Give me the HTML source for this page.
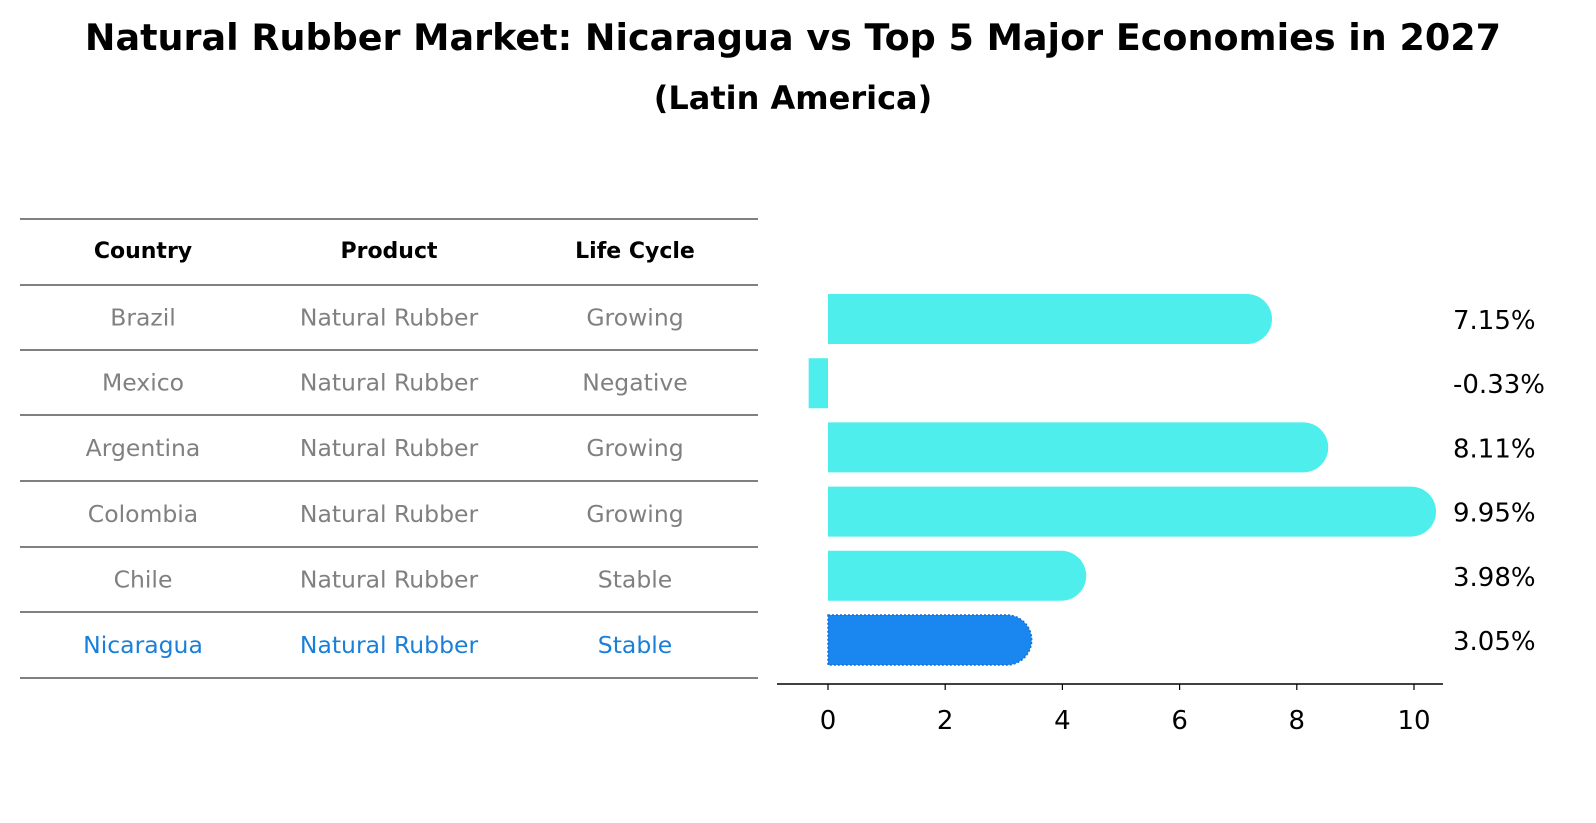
<!DOCTYPE html>
<html><head><meta charset="utf-8"><style>
html,body{margin:0;padding:0;overflow:hidden;background:#fff;font-family:"Liberation Sans","DejaVu Sans",sans-serif;}
svg{display:block;}
</style></head><body>
<svg width="1596" height="823" viewBox="0 0 1596 823" xmlns="http://www.w3.org/2000/svg" font-family="DejaVu Sans, Liberation Sans, sans-serif">
<text x="793" y="50" text-anchor="middle" font-size="36.5" font-weight="bold">Natural Rubber Market: Nicaragua vs Top 5 Major Economies in 2027</text>
<text x="793" y="109" text-anchor="middle" font-size="32" font-weight="bold">(Latin America)</text>
<g id="table"></g>
<g id="bars"></g>
</svg>
<script>
const countries=["Brazil","Mexico","Argentina","Colombia","Chile","Nicaragua"];
const products=["Natural Rubber","Natural Rubber","Natural Rubber","Natural Rubber","Natural Rubber","Natural Rubber"];
const lifeCycles=["Growing","Negative","Growing","Growing","Stable","Stable"];
const growth=[7.15,-0.33,8.11,9.95,3.98,3.05];
const ticks=[0,2,4,6,8,10];
const NS="http://www.w3.org/2000/svg";
function mk(t,a,p){const e=document.createElementNS(NS,t);for(const k in a)e.setAttribute(k,a[k]);p.appendChild(e);return e;}
const tbl=document.getElementById('table');
const lineYs=[219,285,350,415,481,547,612,678];
lineYs.forEach((y,i)=>{const l=mk('line',{x1:20,x2:758,y1:y,y2:y,stroke:'#000','stroke-width':1},tbl);

});
const colX=[143,389,635];
["Country","Product","Life Cycle"].forEach((h,i)=>{const t=mk('text',{x:colX[i],y:258,'text-anchor':'middle','font-size':22,'font-weight':'bold'},tbl);t.textContent=h;

});
countries.forEach((c,r)=>{const y=(lineYs[r+1]+lineYs[r+2])/2+8;const col=r===countries.length-1?'#1a7fd8':'#808080';
[c,products[r],lifeCycles[r]].forEach((v,i)=>{const t=mk('text',{x:colX[i],y:y,'text-anchor':'middle','font-size':23.5,fill:col},tbl);t.textContent=v;

});});
const g=document.getElementById('bars');
const x0=828,pxU=58.6;const xs=v=>x0+v*pxU;
const rowY=i=>319+i*64.2;const bh=50;
growth.forEach((v,i)=>{const cy=rowY(i),top=cy-bh/2;const last=i===growth.length-1;const fill=last?'#1a87f0':'#4eeeec';
let d;
if(v>=0){const xe=xs(v);d=`M${x0},${top} L${xe},${top} A25,25 0 0 1 ${xe},${top+bh} L${x0},${top+bh} Z`;}
else{d=`M${xs(v)},${top} L${x0},${top} L${x0},${top+bh} L${xs(v)},${top+bh} Z`;}
const p=mk('path',{d:d,fill:fill},g);
if(last){p.setAttribute('stroke','#1a6fd0');p.setAttribute('stroke-dasharray','2,2');p.setAttribute('stroke-width','1.5');}


const t=mk('text',{x:1453,y:cy+10,'font-size':26},g);t.textContent=v.toFixed(2)+'%';

});
const ax=mk('line',{x1:777,x2:1443,y1:684,y2:684,stroke:'#000','stroke-width':1.5},g);


ticks.forEach(tv=>{const tk=mk('line',{x1:xs(tv),x2:xs(tv),y1:684,y2:690,stroke:'#000','stroke-width':1.2},g);


const t=mk('text',{x:xs(tv),y:729,'text-anchor':'middle','font-size':26},g);t.textContent=tv;

});
</script>
</body></html>
